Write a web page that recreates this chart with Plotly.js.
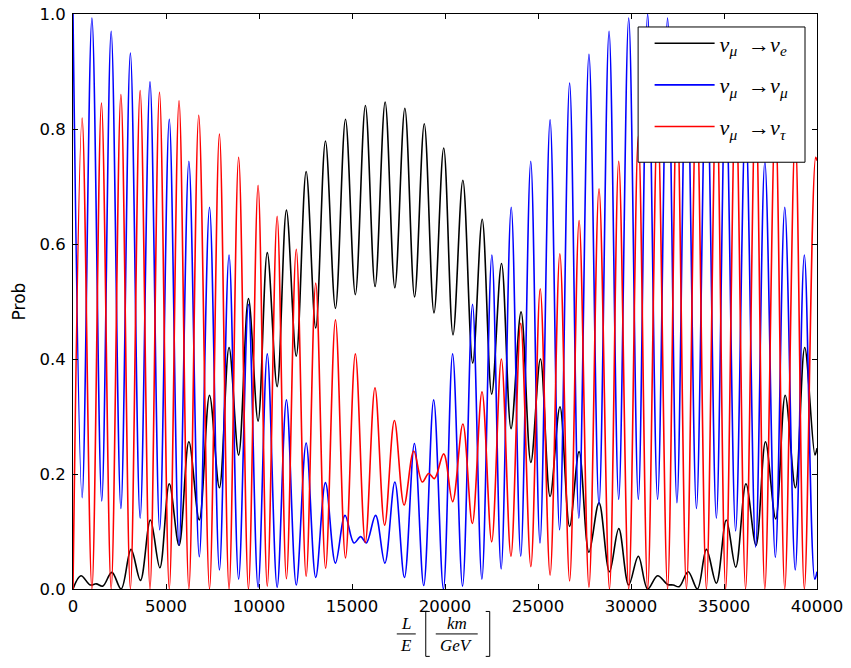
<!DOCTYPE html>
<html>
<head>
<meta charset="utf-8">
<script src="https://cdn.plot.ly/plotly-3.0.1.min.js"></script>
<style>html,body{margin:0;padding:0;background:#fff;}#chart{width:851px;height:668px;}</style>
</head>
<body>
<div id="chart"></div>
<script>
// L/E values (km/GeV) and probabilities (local extrema of each curve)
const xMuE = [0,425,930,1250,1600,2090,2590,3120,3626,4160,
  4670,5177,5700,6230,6790,7340,7872,8390,8905,9433,
  9950,10445,10975,11475,12004,12535,13050,13572,14110,14650,
  15180,15720,16241,16781,17303,17842,18364,18886,19408,19930,
  20430,20960,21490,22000,22510,23040,23550,24090,24615,25130,
  25650,26180,26700,27210,27740,28280,28842,29342,29877,30395,
  30895,31430,31966,32269,32590,33072,33572,34054,34590,35125,
  35630,36180,36720,37230,37780,38290,38840,39340,39890,40000];
const pMuE = [0,.023,.007,.009,.005,.029,0,.069,.015,.120,
  .037,.183,.076,.256,.120,.337,.176,.420,.233,.505,
  .292,.585,.352,.659,.405,.726,.454,.779,.488,.817,
  .512,.841,.526,.847,.524,.836,.508,.809,.480,.767,
  .442,.711,.393,.643,.339,.566,.279,.482,.220,.400,
  .161,.317,.109,.239,.064,.150,.030,.105,.007,.057,
  0,.023,.008,.007,.004,.030,0,.069,.010,.120,
  .038,.183,.076,.256,.122,.337,.176,.420,.233,.245];

const xMuMu = [0,490,1017,1545,2052,2575,3085,3610,4140,4660,
  5177,5700,6230,6790,7340,7872,8390,8905,9433,9950,
  10445,10975,11475,12004,12535,13050,13572,14108,14625,15107,
  15464,15768,16267,16767,17303,17820,18356,18856,19391,19915,
  20409,20944,21480,21983,22520,23019,23560,24072,24610,25107,
  25650,26160,26700,27196,27740,28280,28820,29340,29877,30395,
  30895,31430,31966,32470,32983,33520,34054,34590,35089,35625,
  36160,36700,37196,37760,38267,38830,39320,39880,40000];
const pMuMu = [1.0,.159,.993,.153,.970,.140,.932,.123,.882,.103,
  .817,.076,.744,.056,.664,.033,.581,.017,.495,.003,
  .409,.003,.329,.007,.254,.020,.185,.045,.128,.080,
  .091,.080,.128,.045,.186,.020,.253,.006,.329,.000,
  .409,.005,.495,.017,.581,.035,.664,.057,.744,.080,
  .816,.103,.880,.123,.930,.146,.970,.156,.993,.156,
  1.0,.156,.993,.150,.970,.140,.934,.123,.880,.101,
  .817,.073,.744,.055,.664,.033,.581,.017,.030];

const xMuTau = [0,490,1017,1530,2052,2575,3085,3610,4140,4650,
  5177,5700,6230,6760,7340,7872,8390,8905,9433,9950,
  10445,10975,11475,12004,12535,13050,13580,14110,14650,15180,
  15715,16235,16755,17280,17800,18320,18780,19124,19430,19930,
  20410,20960,21470,21990,22510,23030,23545,24070,24615,25120,
  25650,26175,26700,27210,27740,28280,28842,29340,29877,30395,
  30895,31430,31966,32470,32983,33520,34054,34590,35089,35625,
  36160,36700,37196,37760,38267,38830,39320,39930,40000];
const pMuTau = [0,.819,0,.845,0,.860,0,.867,0,.864,
  0,.849,0,.824,0,.791,0,.751,0,.702,
  .005,.648,.018,.591,.022,.532,.036,.468,.054,.409,
  .081,.350,.111,.293,.146,.240,.186,.201,.192,.235,
  .152,.287,.114,.343,.082,.400,.057,.462,.039,.522,
  .024,.583,.014,.641,.003,.696,0,.744,0,.788,
  0,.820,0,.847,0,.860,0,.867,0,.862,
  0,.851,0,.823,0,.791,0,.751,.745];

const seriesNames = [
  '<i>ν</i><sub><i>μ</i></sub>  →<i>ν</i><sub><i>e</i></sub>',
  '<i>ν</i><sub><i>μ</i></sub>  →<i>ν</i><sub><i>μ</i></sub>',
  '<i>ν</i><sub><i>μ</i></sub>  →<i>ν</i><sub><i>τ</i></sub>'
];
const xTicks = [0,5000,10000,15000,20000,25000,30000,35000,40000];
const yTicks = [0.0,0.2,0.4,0.6,0.8,1.0];

const L = 73, R = 817.5, T = 13.5, B = 589.5;
const px = v => (v - L) / (R - L);
const py = v => (B - v) / (B - T);

function line(x, y, color, name, grp) {
  return {x: x, y: y, type: 'scatter', mode: 'lines', name: name, legendgroup: grp,
    line: {color: color, width: 1.6, shape: 'spline', smoothing: 1.0}, cliponaxis: true};
}
const data = [
  line(xMuE, pMuE, '#000000', seriesNames[0], 'a'),
  line(xMuMu, pMuMu, '#0000ff', seriesNames[1], 'b'),
  line(xMuTau, pMuTau, '#ff0000', seriesNames[2], 'c')
];

const mathFont = {family: 'Liberation Serif, DejaVu Serif, serif', size: 17, color: '#000'};
const annotations = [
  {text: '<i>L</i>', x: px(406), y: py(624), xref: 'paper', yref: 'paper', showarrow: false, xanchor: 'center', yanchor: 'middle', font: mathFont},
  {text: '<i>E</i>', x: px(406), y: py(646), xref: 'paper', yref: 'paper', showarrow: false, xanchor: 'center', yanchor: 'middle', font: mathFont},
  {text: '<i>km</i>', x: px(457), y: py(624), xref: 'paper', yref: 'paper', showarrow: false, xanchor: 'center', yanchor: 'middle', font: mathFont},
  {text: '<i>GeV</i>', x: px(457), y: py(646), xref: 'paper', yref: 'paper', showarrow: false, xanchor: 'center', yanchor: 'middle', font: mathFont}
];
const shp = (p) => ({type: 'path', xref: 'paper', yref: 'paper', path: p, line: {color: '#000', width: 1}});
const P = (a, b) => px(a) + ',' + py(b);
const shapes = [
  shp('M' + P(397, 634.5) + ' L' + P(416, 634.5)),
  shp('M' + P(436, 634.5) + ' L' + P(478, 634.5)),
  shp('M' + P(430, 612) + ' L' + P(426, 612) + ' L' + P(426, 657) + ' L' + P(430, 657)),
  shp('M' + P(486, 612) + ' L' + P(490, 612) + ' L' + P(490, 657) + ' L' + P(486, 657)),
  // legend frame
  {type: 'rect', xref: 'paper', yref: 'paper', layer: 'above',
   x0: px(638.5), x1: px(805.5), y0: py(162), y1: py(26.5),
   fillcolor: '#ffffff', line: {color: '#000000', width: 1}}
];

const tickFont = {family: 'DejaVu Sans, sans-serif', size: 16.5, color: '#000'};
const layout = {
  width: 851, height: 668,
  margin: {l: L, r: 851 - R, t: T, b: 668 - B, pad: 0},
  paper_bgcolor: '#ffffff', plot_bgcolor: '#ffffff',
  showlegend: true,
  legend: {x: px(650), y: py(22), xanchor: 'left', yanchor: 'top',
    bgcolor: 'rgba(0,0,0,0)', borderwidth: 0,
    font: {family: 'Liberation Serif, DejaVu Serif, serif', size: 22, color: '#000'},
    traceorder: 'grouped', tracegroupgap: 10, itemwidth: 60},
  xaxis: {range: [0, 40000], tickvals: xTicks, ticktext: xTicks.map(String),
    ticks: 'inside', ticklen: 5, tickwidth: 1, tickcolor: '#000',
    showline: true, linecolor: '#000', linewidth: 1, mirror: 'allticks',
    showgrid: false, zeroline: false, tickfont: tickFont, ticklabelstandoff: 2},
  yaxis: {range: [0, 1], tickvals: yTicks, ticktext: yTicks.map(v => v.toFixed(1)),
    ticks: 'inside', ticklen: 5, tickwidth: 1, tickcolor: '#000',
    showline: true, linecolor: '#000', linewidth: 1, mirror: 'allticks',
    showgrid: false, zeroline: false, tickfont: tickFont, ticklabelstandoff: 3,
    title: {text: 'Prob', font: {family: 'DejaVu Sans, sans-serif', size: 17, color: '#000'}, standoff: 9}},
  annotations: annotations,
  shapes: shapes
};
Plotly.newPlot('chart', data, layout, {staticPlot: true, displayModeBar: false});
</script>
</body>
</html>
